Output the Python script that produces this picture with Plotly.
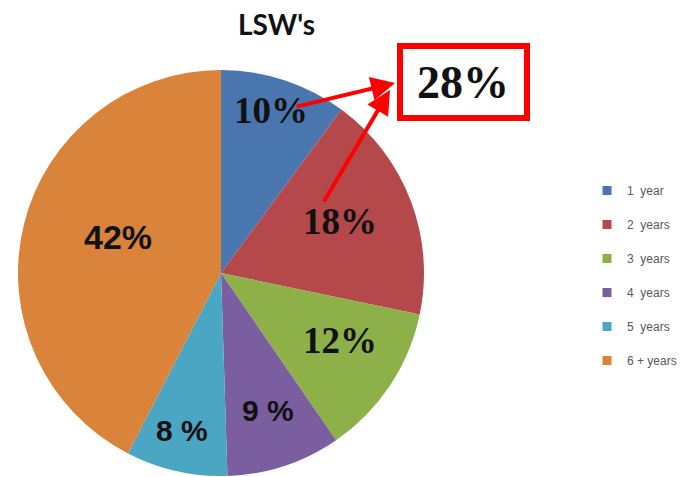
import plotly.graph_objects as go

categories = ["1  year", "2  years", "3  years", "4  years", "5  years", "6 + years"]
values = [10, 18, 12, 9, 8, 42]
slice_labels = ["10%", "18%", "12%", "9 %", "8 %", "42%"]
colors = ["#4A76B0", "#B5484A", "#8DB048", "#7B5EA0", "#4AA6C2", "#DA843B"]
label_fonts = ["Liberation Serif", "Liberation Serif", "Liberation Serif",
               "Liberation Sans", "Liberation Sans", "Liberation Sans"]
title_text = "LSW's"
highlight_text = "28%"

W, H = 686, 477


def px(x):
    return x / W


def py(y):
    return 1 - y / H


fig = go.Figure()
fig.add_trace(go.Pie(
    labels=categories, values=values, sort=False, direction="clockwise",
    rotation=0, marker=dict(colors=colors, line=dict(width=0)),
    textinfo="none", showlegend=False, hoverinfo="label+percent",
    domain=dict(x=[px(18), px(424)], y=[py(476), py(70)]),
))

# legend entries
for i, (c, col) in enumerate(zip(categories, colors)):
    fig.add_trace(go.Scatter(
        x=[None], y=[None], mode="markers", name=c, legendgroup=f"g{i}",
        marker=dict(symbol="square", size=9, color=col),
    ))

# slice labels
label_pos = [(271, 110), (340, 221), (340, 340), (268, 410), (182, 430), (118, 237)]
label_sizes = [37, 37, 37, 30, 30, 34]
for t, (x, y), f, s in zip(slice_labels, label_pos, label_fonts, label_sizes):
    fig.add_annotation(x=px(x), y=py(y), xref="paper", yref="paper", text=f"<b>{t}</b>",
                       xanchor="center", yanchor="middle",
                       showarrow=False, font=dict(family=f, size=s, color="#111111"))

# title
fig.add_annotation(x=px(276), y=py(24), xref="paper", yref="paper", text=f"<b>{title_text}</b>",
                   xanchor="center", yanchor="middle",
                   showarrow=False, font=dict(family="Lato", size=28, color="#111111"))

# highlight box
fig.add_shape(type="rect", xref="paper", yref="paper", x0=px(400), x1=px(527), y0=py(118), y1=py(46),
              line=dict(color="#FF0000", width=6), fillcolor="white", layer="below")
fig.add_annotation(x=px(463), y=py(82), xref="paper", yref="paper", text=f"<b>{highlight_text}</b>",
                   xanchor="center", yanchor="middle",
                   showarrow=False, font=dict(family="Liberation Serif", size=46, color="#111111"))

# arrows
for (tx, ty), (hx, hy) in [((295, 107), (395, 83)), ((323, 203), (390, 90))]:
    fig.add_annotation(x=px(hx), y=py(hy), xref="paper", yref="paper", text="",
                       showarrow=True, ax=tx - hx, ay=ty - hy, arrowcolor="#FF0000",
                       arrowwidth=4, arrowhead=2, arrowsize=1.2)

fig.update_layout(
    width=W, height=H, margin=dict(l=0, r=0, t=0, b=0),
    paper_bgcolor="white", plot_bgcolor="white",
    xaxis=dict(visible=False), yaxis=dict(visible=False),
    legend=dict(x=px(587), y=py(176), xanchor="left", yanchor="top",
                font=dict(family="Liberation Sans", size=12, color="#595959"),
                tracegroupgap=15, itemwidth=30),
)

fig.write_html("out.html", config={"displayModeBar": False},
               post_script="document.body.style.margin='0';")
